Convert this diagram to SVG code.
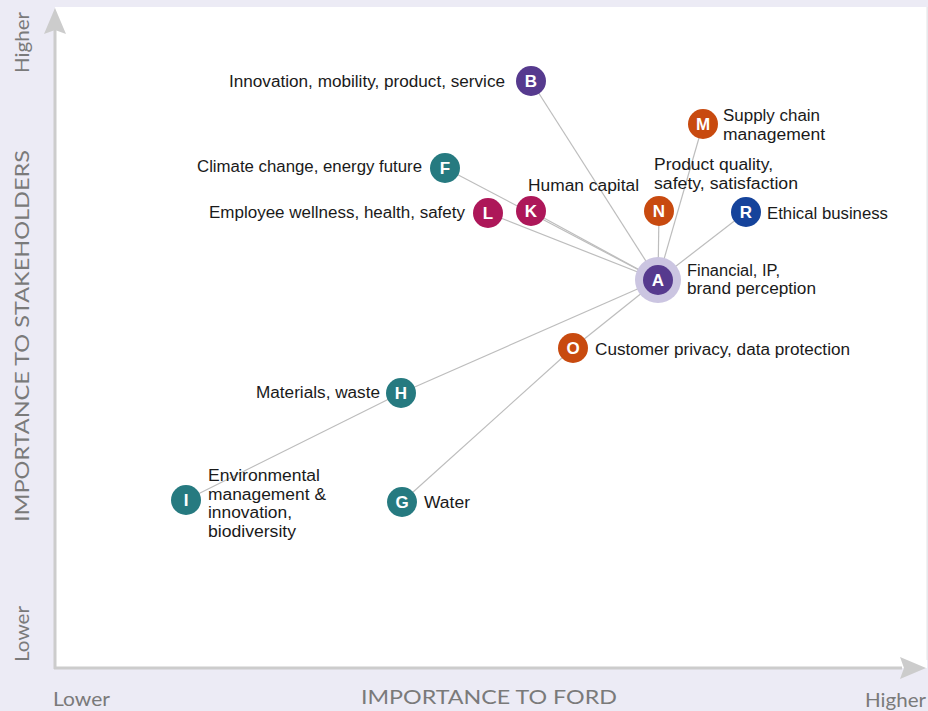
<svg xmlns="http://www.w3.org/2000/svg" width="928" height="711" viewBox="0 0 928 711">
<style>
.lbl{font-family:"Liberation Sans Narrow","Liberation Sans",Arial,sans-serif;font-size:16px;fill:#1a1a1a}
.ax{font-family:"Lato","Liberation Sans",sans-serif;fill:#7a7a7a}
.nl{font-family:"Liberation Sans",Arial,sans-serif;font-size:17px;font-weight:bold;fill:#fff;text-anchor:middle}
.con line{stroke:#bdbdbd;stroke-width:1.2}
.purple{fill:#563a8e}.orange{fill:#c84a0f}.teal{fill:#267a80}.mag{fill:#ad1759}.blue{fill:#15439b}
</style>
<rect x="0" y="0" width="928" height="711" fill="#ecebf5"/>
<rect x="55" y="7" width="872" height="661" fill="#ffffff"/>
<line x1="927" y1="7" x2="927" y2="660" stroke="#e4e4e4" stroke-width="1"/>
<g id="axes">
<line x1="55" y1="30" x2="55" y2="669" stroke="#cccccc" stroke-width="3"/>
<line x1="54" y1="668" x2="902" y2="668" stroke="#cccccc" stroke-width="3"/>
<polygon points="55,8 66,34 55,30 44,34" fill="#cccccc"/>
<polygon points="926,668 900,657 904,668 900,679" fill="#cccccc"/>
<text class="ax" x="489" y="704" font-size="20" text-anchor="middle" textLength="256" lengthAdjust="spacingAndGlyphs">IMPORTANCE TO FORD</text>
<text class="ax" x="53" y="706" font-size="19" textLength="57" lengthAdjust="spacingAndGlyphs">Lower</text>
<text class="ax" x="865" y="707" font-size="19" textLength="61" lengthAdjust="spacingAndGlyphs">Higher</text>
<text class="ax" transform="translate(29,336) rotate(-90)" font-size="20" text-anchor="middle" textLength="372" lengthAdjust="spacingAndGlyphs">IMPORTANCE TO STAKEHOLDERS</text>
<text class="ax" transform="translate(29,73) rotate(-90)" font-size="19" textLength="61" lengthAdjust="spacingAndGlyphs">Higher</text>
<text class="ax" transform="translate(29,662) rotate(-90)" font-size="19" textLength="56" lengthAdjust="spacingAndGlyphs">Lower</text>
</g>
<g id="connectors" class="con">
<line x1="658" y1="280" x2="531" y2="81"/>
<line x1="658" y1="280" x2="703" y2="124"/>
<line x1="658" y1="280" x2="445" y2="168"/>
<line x1="658" y1="280" x2="531" y2="211"/>
<line x1="658" y1="280" x2="488" y2="213"/>
<line x1="658" y1="280" x2="659" y2="211"/>
<line x1="658" y1="280" x2="746" y2="212"/>
<line x1="658" y1="280" x2="573" y2="348"/>
<line x1="658" y1="280" x2="401" y2="393"/>
<line x1="401" y1="393" x2="186" y2="500"/>
<line x1="573" y1="348" x2="402" y2="502"/>
</g>
<g id="node-A"><circle cx="658" cy="280" r="23" fill="#cbc5e1"/><circle cx="658" cy="280" r="15" class="purple"/><text class="nl" x="658" y="286">A</text>
<text class="lbl" x="687" y="276" textLength="93" lengthAdjust="spacingAndGlyphs">Financial, IP,</text><text class="lbl" x="687" y="294" textLength="129" lengthAdjust="spacingAndGlyphs">brand perception</text></g>
<g id="node-B"><circle cx="531" cy="81" r="15" class="purple"/><text class="nl" x="531" y="87">B</text>
<text class="lbl" x="229" y="87" textLength="276" lengthAdjust="spacingAndGlyphs">Innovation, mobility, product, service</text></g>
<g id="node-M"><circle cx="703" cy="124" r="15" class="orange"/><text class="nl" x="703" y="130">M</text>
<text class="lbl" x="723" y="121" textLength="97" lengthAdjust="spacingAndGlyphs">Supply chain</text><text class="lbl" x="723" y="140" textLength="102" lengthAdjust="spacingAndGlyphs">management</text></g>
<g id="node-N"><circle cx="659" cy="211" r="15" class="orange"/><text class="nl" x="659" y="217">N</text>
<text class="lbl" x="654" y="170" textLength="119" lengthAdjust="spacingAndGlyphs">Product quality,</text><text class="lbl" x="654" y="189" textLength="144" lengthAdjust="spacingAndGlyphs">safety, satisfaction</text></g>
<g id="node-F"><circle cx="445" cy="168" r="15" class="teal"/><text class="nl" x="445" y="174">F</text>
<text class="lbl" x="197" y="172" textLength="225" lengthAdjust="spacingAndGlyphs">Climate change, energy future</text></g>
<g id="node-K"><circle cx="531" cy="211" r="15" class="mag"/><text class="nl" x="531" y="217">K</text>
<text class="lbl" x="528" y="191" textLength="111" lengthAdjust="spacingAndGlyphs">Human capital</text></g>
<g id="node-L"><circle cx="488" cy="213" r="15" class="mag"/><text class="nl" x="488" y="219">L</text>
<text class="lbl" x="209" y="218" textLength="256" lengthAdjust="spacingAndGlyphs">Employee wellness, health, safety</text></g>
<g id="node-R"><circle cx="746" cy="212" r="15" class="blue"/><text class="nl" x="746" y="218">R</text>
<text class="lbl" x="767" y="219" textLength="121" lengthAdjust="spacingAndGlyphs">Ethical business</text></g>
<g id="node-O"><circle cx="573" cy="348" r="15" class="orange"/><text class="nl" x="573" y="354">O</text>
<text class="lbl" x="595" y="355" textLength="255" lengthAdjust="spacingAndGlyphs">Customer privacy, data protection</text></g>
<g id="node-H"><circle cx="401" cy="393" r="15" class="teal"/><text class="nl" x="401" y="399">H</text>
<text class="lbl" x="256" y="398" textLength="124" lengthAdjust="spacingAndGlyphs">Materials, waste</text></g>
<g id="node-I"><circle cx="186" cy="500" r="15" class="teal"/><text class="nl" x="186" y="506">I</text>
<text class="lbl" x="208" y="481" textLength="112" lengthAdjust="spacingAndGlyphs">Environmental</text><text class="lbl" x="208" y="500" textLength="118" lengthAdjust="spacingAndGlyphs">management &amp;</text><text class="lbl" x="208" y="518" textLength="84" lengthAdjust="spacingAndGlyphs">innovation,</text><text class="lbl" x="208" y="537" textLength="88" lengthAdjust="spacingAndGlyphs">biodiversity</text></g>
<g id="node-G"><circle cx="402" cy="502" r="15" class="teal"/><text class="nl" x="402" y="508">G</text>
<text class="lbl" x="424" y="508" textLength="46" lengthAdjust="spacingAndGlyphs">Water</text></g>
</svg>
